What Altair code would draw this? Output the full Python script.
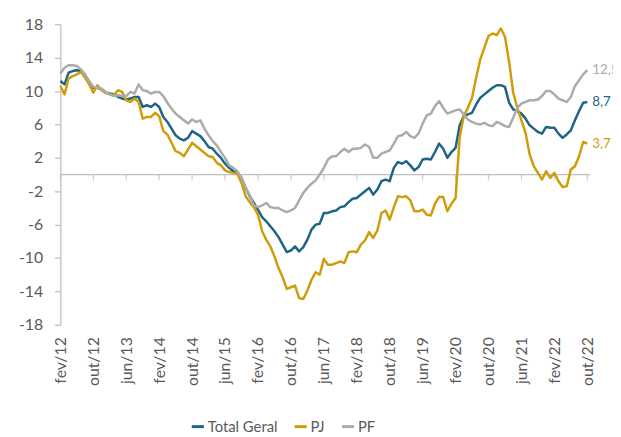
import json
import altair as alt
import pandas as pd

tick_labels = ["fev/12", "out/12", "jun/13", "fev/14", "out/14", "jun/15", "fev/16",
               "out/16", "jun/17", "fev/18", "out/18", "jun/19", "fev/20", "out/20",
               "jun/21", "fev/22", "out/22"]
y_ticks = [18, 14, 10, 6, 2, -2, -6, -10, -14, -18]
series_names = ["Total Geral", "PJ", "PF"]
series_colors = ["#1E6485", "#CF9D09", "#ABABAB"]
end_labels = ["8,7", "3,7", "12,5"]

total_geral = [
    11.2, 10.8, 12.2, 12.4, 12.5, 12.4, 11.8, 11.1, 10.4, 10.4,
    10.2, 9.8, 9.7, 9.6, 9.3, 9.1, 9.0, 9.1, 9.3, 9.3,
    8.1, 8.3, 8.1, 8.5, 8.1, 6.9, 6.3, 5.5, 4.7, 4.3,
    4.1, 4.4, 5.2, 4.9, 4.6, 4.0, 3.3, 3.1, 2.5, 2.0,
    1.3, 0.8, 0.4, 0.2, -0.4, -1.6, -2.6, -3.4, -4.2, -5.1,
    -5.6, -6.2, -6.8, -7.5, -8.4, -9.3, -9.1, -8.6, -9.2, -8.7,
    -7.8, -6.6, -6.0, -5.9, -4.6, -4.6, -4.4, -4.3, -3.9, -3.8,
    -3.3, -2.9, -2.8, -2.4, -2.0, -1.6, -2.4, -1.8, -0.8, -0.6,
    -0.8, 0.8, 1.5, 1.3, 1.6, 1.1, 0.5, 0.9, 1.8, 1.9,
    1.8, 2.7, 3.7, 3.1, 2.0, 2.7, 3.2, 5.9, 7.0, 7.2,
    7.4, 8.4, 9.2, 9.6, 10.0, 10.4, 10.7, 10.7, 10.5, 8.6,
    7.8, 7.6, 7.3, 6.7, 5.9, 5.5, 5.1, 4.9, 5.7, 5.6,
    5.6, 4.9, 4.4, 4.8, 5.3, 6.5, 7.6, 8.6, 8.7,
]

pj = [
    10.6, 9.6, 11.5, 11.8, 12.0, 12.3, 11.6, 10.8, 9.8, 10.7,
    10.1, 9.8, 9.6, 9.5, 10.1, 9.9, 8.9, 8.7, 9.1, 8.7,
    6.7, 6.9, 6.9, 7.4, 7.0, 5.2, 4.8, 3.8, 2.8, 2.6,
    2.2, 3.0, 3.8, 3.4, 3.0, 2.6, 2.2, 2.1, 1.4, 1.1,
    0.5, 0.3, 0.2, 0.1, -1.0, -2.6, -3.3, -3.9, -4.8, -6.8,
    -7.8, -8.6, -9.8, -11.2, -12.3, -13.7, -13.5, -13.3, -14.8, -14.9,
    -13.9, -12.6, -11.7, -12.0, -10.1, -10.8, -10.8, -10.6, -10.4, -10.6,
    -9.3, -9.2, -9.3, -8.4, -7.9, -6.9, -7.6, -6.7, -4.6, -4.3,
    -5.4, -3.9, -2.6, -2.7, -2.6, -3.1, -4.4, -4.4, -4.2, -4.8,
    -4.9, -3.5, -2.7, -2.7, -4.4, -3.5, -2.8, 4.5, 7.0, 8.0,
    9.2, 11.6, 13.8, 15.2, 16.6, 16.9, 16.7, 17.5, 16.5, 13.5,
    9.8, 8.0, 6.5, 5.0, 2.4, 1.0, 0.2, -0.6, 0.4, -0.4,
    0.2, -0.8, -1.5, -1.4, 0.6, 1.0, 2.2, 3.9, 3.7,
]

pf = [
    12.1, 12.8, 13.1, 13.1, 13.0, 12.6, 12.0, 11.2, 10.5, 10.4,
    10.3, 9.9, 9.6, 9.4, 9.5, 9.4, 9.4, 9.9, 9.7, 10.8,
    10.1, 10.0, 9.7, 9.9, 9.9, 9.4, 8.6, 7.9, 7.3, 6.9,
    6.5, 6.1, 6.6, 6.3, 6.5, 5.5, 4.7, 4.0, 3.5, 2.7,
    2.0, 1.1, 0.8, 0.4, -0.4, -1.6, -2.5, -3.7, -3.9, -3.7,
    -3.4, -3.9, -4.0, -4.0, -4.3, -4.5, -4.3, -4.0, -3.1, -2.2,
    -1.6, -1.1, -0.7, 0.0, 0.8, 1.8, 2.2, 2.2, 2.7, 3.1,
    2.7, 3.1, 3.1, 3.2, 3.6, 3.3, 2.0, 2.0, 2.5, 2.7,
    2.9, 3.7, 4.6, 4.7, 5.1, 4.6, 4.4, 4.9, 6.1, 7.1,
    7.3, 8.2, 8.8, 8.0, 7.3, 7.5, 7.7, 7.8, 7.2, 6.6,
    6.3, 6.1, 6.0, 6.2, 5.9, 5.8, 6.3, 6.1, 5.8, 5.7,
    6.8, 8.0, 8.5, 8.7, 8.9, 8.9, 9.0, 9.4, 10.0, 10.0,
    9.6, 9.1, 8.9, 8.7, 9.3, 10.6, 11.3, 12.0, 12.5,
]

series_values = [total_geral, pj, pf]
n = len(total_geral)
last = n - 1
tick_pos = [8 * k for k in range(len(tick_labels))]

rows = []
for name, vals in zip(series_names, series_values):
    for i, v in enumerate(vals):
        rows.append({"mes": i, "serie": name, "valor": v})
df = pd.DataFrame(rows)

df_end = pd.DataFrame({
    "mes": [last] * 3,
    "serie": series_names,
    "valor": [vals[-1] for vals in series_values],
    "rotulo": end_labels,
})
df_zero = pd.DataFrame({"mes": [0], "mes2": [last + 0.7], "valor": [0]})
df_ticks = pd.DataFrame({"mes": tick_pos, "valor": [0] * len(tick_pos)})

text_color = "#595959"
axis_color = "#BFBFBF"
font = "Lato"

xscale = alt.Scale(domain=[0, last], nice=False, zero=False)
yscale = alt.Scale(domain=[-18, 18], nice=False)
cscale = alt.Scale(domain=series_names, range=series_colors)

label_expr = json.dumps(tick_labels) + "[round(datum.value/8)]"

xaxis = alt.Axis(
    values=tick_pos, labelExpr=label_expr, labelAngle=-90, ticks=False,
    domain=False, grid=False, title=None, labelFontSize=16, labelColor=text_color,
    labelPadding=12, labelOverlap=False, labelFlush=False, labelFont=font)
yaxis = alt.Axis(
    values=y_ticks, grid=False, domainColor=axis_color, tickColor=axis_color,
    tickSize=6, labelFontSize=16, labelColor=text_color, labelPadding=12,
    title=None, labelExpr="datum.value + ''", labelFont=font, domainWidth=1.3,
    tickWidth=1.3)

X = alt.X("mes:Q", scale=xscale, axis=xaxis)
Y = alt.Y("valor:Q", scale=yscale, axis=yaxis)

lines = alt.Chart(df).mark_line(strokeWidth=2.5, strokeJoin="round").encode(
    x=X,
    y=Y,
    color=alt.Color("serie:N", scale=cscale, sort=series_names, legend=alt.Legend(
        orient="none", legendX=131, legendY=399, direction="horizontal", title=None,
        symbolType="stroke", symbolStrokeWidth=3, symbolSize=150, labelFontSize=15,
        labelColor=text_color, labelOffset=2, columnPadding=10, labelFont=font)),
)

zero_rule = alt.Chart(df_zero).mark_rule(color=axis_color, strokeWidth=1.3).encode(
    x=X,
    x2="mes2:Q",
    y=Y,
)

ticks = alt.Chart(df_ticks).mark_tick(
    orient="vertical", size=6, thickness=1.3, yOffset=3, color=axis_color
).encode(
    x=X,
    y=Y,
)

end_text = alt.Chart(df_end).mark_text(
    align="left", baseline="middle", dx=5, fontSize=13.5, font=font
).encode(
    x=X,
    y=Y,
    text="rotulo:N",
    color=alt.Color("serie:N", scale=cscale, sort=series_names, legend=None),
)

chart = alt.layer(zero_rule, ticks, lines, end_text).properties(
    width=533, height=304,
    autosize=alt.AutoSizeParams(type="none"),
    padding={"left": 53, "top": 14, "right": 26, "bottom": 110},
).configure(font=font).configure_view(stroke=None)

chart.save("out.html", embed_options={"renderer": "svg", "actions": False})
